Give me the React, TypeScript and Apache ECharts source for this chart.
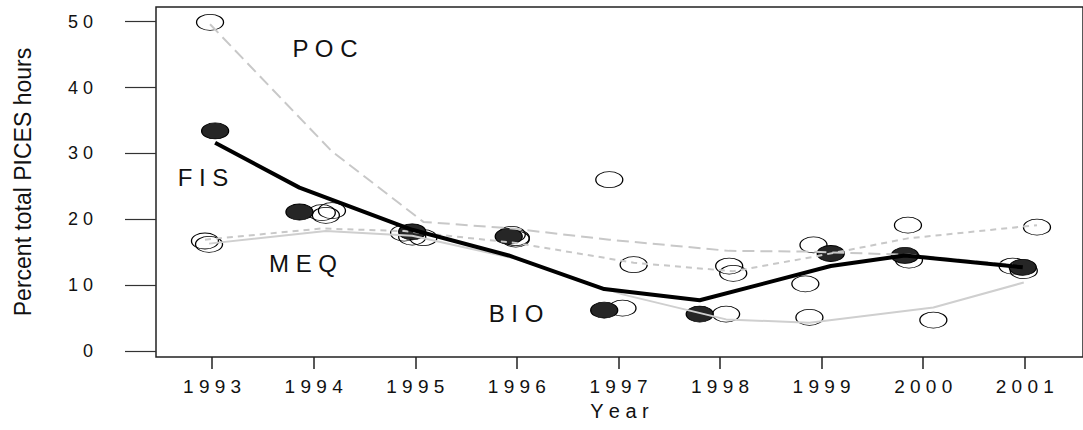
import React, { useEffect, useRef } from "react";
import * as echarts from "echarts";

// Axis ticks
const tickYears = [1993, 1994, 1995, 1996, 1997, 1998, 1999, 2000, 2001];
const yTicks = [0, 10, 20, 30, 40, 50];

// FIS (filled points, thick black smoother)
const fisYears = [1993.03, 1993.86, 1994.97, 1995.92, 1996.86, 1997.8, 1999.09, 1999.82, 2000.98];
const fisValues = [33.4, 21.1, 18.1, 17.4, 6.2, 5.6, 14.8, 14.5, 12.7];
const fisSmooth = [31.6, 24.8, 18.4, 14.5, 9.4, 7.7, 12.9, 14.5, 12.7];

// POC (open points, long-dashed grey smoother)
const pocYears = [1992.98, 1994.18, 1995.08, 1995.95, 1996.91, 1998.09, 1998.84, 1999.86, 2000.88];
const pocValues = [49.9, 21.3, 17.2, 17.7, 26.0, 12.9, 10.2, 13.8, 12.9];
const pocSmooth = [49.6, 30.3, 19.6, 18.6, 16.9, 15.2, 15.1, 14.6, 13.1];

// MEQ (open points, short-dashed grey smoother)
const meqYears = [1992.93, 1994.08, 1994.89, 1995.99, 1997.15, 1998.13, 1998.92, 1999.85, 2001.12];
const meqValues = [16.7, 21.0, 17.9, 17.0, 13.1, 11.8, 16.1, 19.1, 18.8];
const meqSmooth = [16.9, 18.6, 18.2, 16.4, 13.4, 12.1, 14.3, 17.1, 19.1];

// BIO (open points, solid light grey smoother)
const bioYears = [1992.97, 1994.12, 1994.97, 1995.99, 1997.04, 1998.06, 1998.88, 2000.1, 2000.99];
const bioValues = [16.2, 20.6, 17.3, 17.2, 6.5, 5.6, 5.1, 4.7, 12.2];
const bioSmooth = [16.3, 18.2, 17.5, 14.0, 8.6, 4.8, 4.3, 6.6, 10.4];

const groupLabels = ["P O C", "F I S", "M E Q", "B I O"];

const ELLIPSE = "path://M0,50 A50,50 0 1,1 100,50 A50,50 0 1,1 0,50 Z";
const FONT = "'Liberation Sans', Arial, Helvetica, sans-serif";

const pairs = (xs: number[], ys: number[]) => xs.map((x, i) => [x, ys[i]]);
const spaced = (v: number) => String(v).split("").join(" ");

export default function App() {
  const ref = useRef<HTMLDivElement>(null);

  useEffect(() => {
    if (!ref.current) return;
    const chart = echarts.init(ref.current, undefined, { renderer: "svg" });

    const openPoint = (name: string, xs: number[], ys: number[]) => ({
      name,
      type: "scatter",
      data: pairs(xs, ys),
      symbol: ELLIPSE,
      symbolSize: [27, 16],
      itemStyle: { color: "rgba(255,255,255,0)", borderColor: "#000", borderWidth: 1, opacity: 1 },
      z: 2,
    });

    const line = (name: string, xs: number[], ys: number[], style: any) => ({
      name: name + " smooth",
      type: "line",
      data: pairs(xs, ys),
      symbol: "none",
      lineStyle: style,
      z: 3,
    });

    const label = (text: string, x: number, y: number) => ({
      type: "text",
      x,
      y,
      style: { text, fontFamily: FONT, fontSize: 24, fill: "#111", textAlign: "center", textVerticalAlign: "middle" },
    });

    chart.setOption({
      animation: false,
      grid: {
        left: 156,
        top: 7,
        width: 931,
        height: 350,
        show: true,
        borderColor: "#222",
        borderWidth: 1.5,
        backgroundColor: "transparent",
      },
      xAxis: {
        type: "value",
        min: 1992.448,
        max: 2001.573,
        splitLine: { show: false },
        axisLine: { show: false, onZero: false },
        axisTick: {
          show: true,
          length: 12,
          inside: false,
          customValues: tickYears,
          lineStyle: { color: "#222", width: 1.5 },
        },
        axisLabel: {
          customValues: tickYears,
          formatter: (v: number) => spaced(v),
          fontFamily: FONT,
          fontSize: 19,
          color: "#111",
          margin: 20,
        },
        name: "Y e a r",
        nameLocation: "middle",
        nameGap: 40,
        nameTextStyle: { fontFamily: FONT, fontSize: 20, color: "#111" },
      },
      yAxis: {
        type: "value",
        min: -0.91,
        max: 52.22,
        splitLine: { show: false },
        axisLine: { show: false, onZero: false },
        axisTick: {
          show: true,
          length: 31,
          inside: false,
          customValues: yTicks,
          lineStyle: { color: "#333", width: 1.2 },
        },
        axisLabel: {
          customValues: yTicks,
          formatter: (v: number) => spaced(v),
          fontFamily: FONT,
          fontSize: 18,
          color: "#111",
          margin: 63,
        },
        name: "Percent total PICES hours",
        nameLocation: "middle",
        nameGap: 122,
        nameRotate: 90,
        nameTextStyle: { fontFamily: FONT, fontSize: 23, color: "#111" },
      },
      series: [
        openPoint("POC", pocYears, pocValues),
        openPoint("MEQ", meqYears, meqValues),
        openPoint("BIO", bioYears, bioValues),
        {
          name: "FIS",
          type: "scatter",
          data: pairs(fisYears, fisValues),
          symbol: ELLIPSE,
          symbolSize: [27, 16],
          itemStyle: { color: "#262626", borderColor: "#000", borderWidth: 1, opacity: 1 },
          z: 2,
        },
        line("BIO", bioYears, bioSmooth, { color: "#cfcfcf", width: 2, type: "solid" }),
        line("MEQ", meqYears, meqSmooth, { color: "#c8c8c8", width: 2, type: [6, 5] }),
        line("POC", pocYears, pocSmooth, { color: "#c8c8c8", width: 2, type: [12, 6] }),
        line("FIS", fisYears, fisSmooth, { color: "#000", width: 4, type: "solid" }),
      ],
      graphic: [
        label(groupLabels[0], 325, 48),
        label(groupLabels[1], 203, 177),
        label(groupLabels[2], 303, 263),
        label(groupLabels[3], 516, 313),
      ],
    });

    return () => chart.dispose();
  }, []);

  return (
    <div
      ref={ref}
      style={{ position: "absolute", left: 0, top: 0, width: 1083, height: 430, background: "#fff" }}
    />
  );
}
